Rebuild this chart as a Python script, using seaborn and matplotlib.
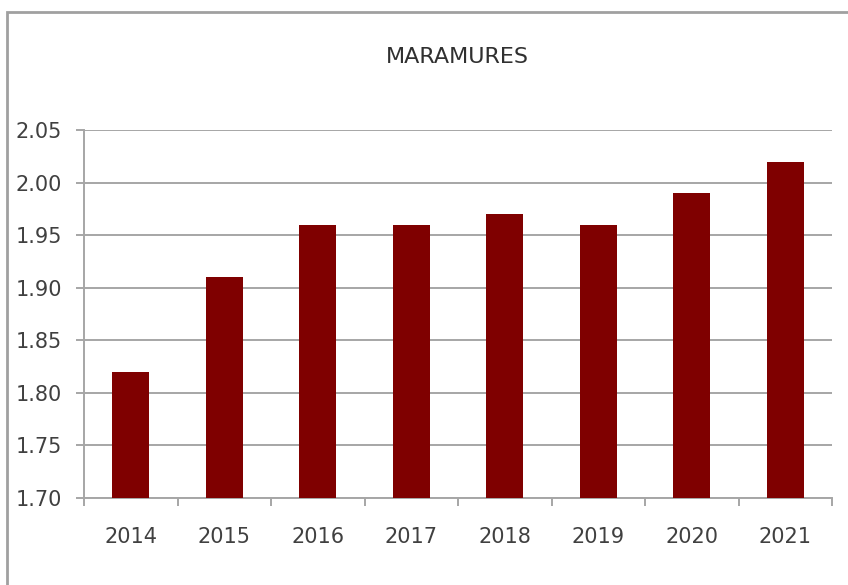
import numpy as np
import pandas as pd
import seaborn as sns
import matplotlib.pyplot as plt
from matplotlib.patches import Rectangle

# Data
years = ['2014', '2015', '2016', '2017', '2018', '2019', '2020', '2021']
values = [1.82, 1.91, 1.96, 1.96, 1.97, 1.96, 1.99, 2.02]
y_ticks = [1.70, 1.75, 1.80, 1.85, 1.90, 1.95, 2.00, 2.05]

df = pd.DataFrame({'Year': years, 'Value': values})

sns.set_style('white')
plt.rcParams['font.family'] = ['DejaVu Sans']

fig = plt.figure(figsize=(8.48, 5.85), dpi=100)
ax = fig.add_axes([84 / 848, 1 - 498 / 585, 748 / 848, 368 / 585])

sns.barplot(data=df, x='Year', y='Value', color='#7f0000', saturation=1,
            width=0.4, linewidth=0, ax=ax, zorder=3)

grid_col = '#a6a6a6'
text_col = '#404040'

ax.set_ylim(1.70, 2.05)
ax.set_yticks(y_ticks)
ax.set_yticklabels([f'{t:.2f}' for t in y_ticks])
ax.set_xlim(-0.5, len(years) - 0.5)
ax.yaxis.grid(True, color=grid_col, linewidth=1.4, zorder=0)
ax.set_axisbelow(True)

for side in ['top', 'right']:
    ax.spines[side].set_visible(False)
for side in ['left', 'bottom']:
    ax.spines[side].set_color(grid_col)
    ax.spines[side].set_linewidth(1.4)

ax.tick_params(axis='y', length=6, width=1.4, color=grid_col, pad=10,
               labelsize=15, labelcolor=text_col, left=True)
ax.tick_params(axis='x', which='major', length=0, pad=21,
               labelsize=15, labelcolor=text_col)
ax.set_xticks(np.arange(-0.5, len(years)), minor=True)
ax.tick_params(axis='x', which='minor', length=6, width=1.4, color=grid_col,
               bottom=True)

ax.set_xlabel('')
ax.set_ylabel('')

fig.text(457 / 848, 1 - 57 / 585, 'MARAMURES', ha='center', va='center',
         fontsize=16, color='#303030')

# outer chart border (only left and top visible in the crop)
fig.patches.append(Rectangle((7 / 848, -0.5), 2, 0.5 + (1 - 12 / 585),
                             transform=fig.transFigure, fill=False,
                             edgecolor='#a0a0a0', linewidth=2))

fig.savefig('out.png', dpi=100)
